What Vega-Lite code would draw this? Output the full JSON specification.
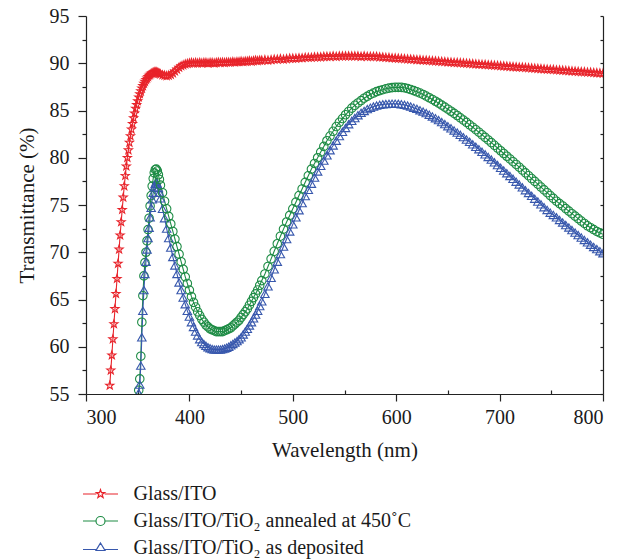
{
  "$schema": "https://vega.github.io/schema/vega-lite/v6.json",
  "width": 517,
  "height": 378,
  "autosize": "none",
  "padding": {"left": 86, "top": 16, "right": 27, "bottom": 166},
  "background": "white",
  "config": {
    "view": {"stroke": null},
    "font": "Liberation Serif",
    "axis": {
      "grid": false,
      "domainColor": "#222222",
      "tickColor": "#222222",
      "domainWidth": 1.2,
      "tickWidth": 1.2,
      "labelFont": "Liberation Serif",
      "titleFont": "Liberation Serif",
      "labelFontSize": 20,
      "titleFontSize": 21,
      "labelColor": "#1a1a1a",
      "titleColor": "#1a1a1a",
      "titleFontWeight": "normal"
    }
  },
  "data": {
    "values": [
      {"w":323,"r":55.9},{"w":324,"r":57.5},{"w":325,"r":59.1},{"w":326,"r":60.8},{"w":327,"r":62.4},
      {"w":328,"r":64.0},{"w":329,"r":65.6},{"w":330,"r":67.2},{"w":331,"r":68.8},{"w":332,"r":70.3},
      {"w":333,"r":71.8},{"w":334,"r":73.2},{"w":335,"r":74.5},{"w":336,"r":75.8},{"w":337,"r":77.0},
      {"w":338,"r":78.1},{"w":339,"r":79.1},{"w":340,"r":80.0},{"w":341,"r":80.8},{"w":342,"r":81.6},
      {"w":343,"r":82.3},{"w":344,"r":83.0},{"w":345,"r":83.6},{"w":346,"r":84.2},{"w":347,"r":84.7},
      {"w":348,"r":85.2},{"w":349,"r":85.6},{"w":350,"r":86.0},
      {"w":351,"r":86.4,"g":55.4,"b":55.1},{"w":352,"r":86.75,"g":56.6,"b":56.0},{"w":353,"r":87.05,"g":59.0,"b":58.0},
      {"w":354,"r":87.35,"g":62.6,"b":61.0},{"w":355,"r":87.6,"g":65.4,"b":63.8},{"w":356,"r":87.85,"g":67.5,"b":66.0},
      {"w":357,"r":88.05,"g":68.9,"b":67.7},{"w":358,"r":88.25,"g":70.0,"b":69.0},{"w":359,"r":88.4,"g":71.2,"b":70.3},
      {"w":360,"r":88.55,"g":72.4,"b":71.5},{"w":361,"r":88.7,"g":73.6,"b":72.6},{"w":362,"r":88.8,"g":74.9,"b":73.7},
      {"w":363,"r":88.9,"g":76.0,"b":74.7},{"w":364,"r":88.95,"g":77.0,"b":75.6},{"w":365,"r":89.0,"g":77.8,"b":76.3},
      {"w":366,"r":89.05,"g":78.4,"b":76.9},{"w":367,"r":89.05,"g":78.75,"b":77.25},{"w":368,"r":89.05,"g":78.8,"b":77.4},
      {"w":369,"r":89.0,"g":78.6,"b":77.2},{"w":370,"r":88.95,"g":78.2,"b":76.8},{"w":371,"r":88.9,"g":77.7,"b":76.3},
      {"w":372,"r":88.85,"g":77.1,"b":75.7},
      {"w":374,"r":88.75,"g":76.3,"b":74.6},{"w":376,"r":88.7,"g":75.4,"b":73.6},{"w":378,"r":88.65,"g":74.6,"b":72.5},
      {"w":380,"r":88.7,"g":73.8,"b":71.5},{"w":382,"r":88.8,"g":73.0,"b":70.5},{"w":384,"r":88.95,"g":72.2,"b":69.5},
      {"w":386,"r":89.15,"g":71.4,"b":68.6},{"w":388,"r":89.35,"g":70.6,"b":67.7},{"w":390,"r":89.55,"g":69.8,"b":66.8},
      {"w":392,"r":89.7,"g":69.0,"b":66.0},{"w":394,"r":89.8,"g":68.2,"b":65.2},{"w":396,"r":89.9,"g":67.4,"b":64.5},
      {"w":398,"r":89.95,"g":66.7,"b":63.8},{"w":400,"r":90.0,"g":66.0,"b":63.2},{"w":402,"r":90.05,"g":65.3,"b":62.6},
      {"w":404,"r":90.0,"g":64.7,"b":62.1},{"w":406,"r":90.05,"g":64.2,"b":61.6},{"w":408,"r":90.0,"g":63.7,"b":61.2},
      {"w":410,"r":90.05,"g":63.3,"b":60.8},{"w":412,"r":90.0,"g":62.9,"b":60.5},{"w":414,"r":90.05,"g":62.6,"b":60.3},
      {"w":416,"r":90.05,"g":62.3,"b":60.1},{"w":418,"r":90.0,"g":62.1,"b":59.95},{"w":420,"r":90.05,"g":61.9,"b":59.85},
      {"w":422,"r":90.05,"g":61.8,"b":59.75},{"w":424,"r":90.0,"g":61.7,"b":59.7},{"w":426,"r":90.05,"g":61.6,"b":59.7},
      {"w":428,"r":90.1,"g":61.6,"b":59.7},{"w":430,"r":90.05,"g":61.6,"b":59.7},{"w":432,"r":90.1,"g":61.6,"b":59.75},
      {"w":434,"r":90.05,"g":61.7,"b":59.8},{"w":436,"r":90.1,"g":61.8,"b":59.9},{"w":438,"r":90.1,"g":61.9,"b":60.0},
      {"w":440,"r":90.1,"g":62.0,"b":60.15},{"w":442,"r":90.15,"g":62.2,"b":60.3},{"w":444,"r":90.1,"g":62.4,"b":60.45},
      {"w":446,"r":90.15,"g":62.6,"b":60.6},{"w":448,"r":90.15,"g":62.8,"b":60.8},{"w":450,"r":90.2,"g":63.1,"b":61.0},
      {"w":452,"r":90.15,"g":63.4,"b":61.3},{"w":454,"r":90.2,"g":63.7,"b":61.6},{"w":456,"r":90.2,"g":64.0,"b":61.9},
      {"w":458,"r":90.25,"g":64.4,"b":62.25},{"w":460,"r":90.2,"g":64.8,"b":62.6},{"w":462,"r":90.25,"g":65.2,"b":63.0},
      {"w":464,"r":90.3,"g":65.6,"b":63.4},{"w":466,"r":90.25,"g":66.0,"b":63.8},{"w":468,"r":90.3,"g":66.5,"b":64.3},
      {"w":470,"r":90.3,"g":67.0,"b":64.8},
      {"w":473,"r":90.35,"g":67.7,"b":65.6},{"w":476,"r":90.3,"g":68.5,"b":66.4},{"w":479,"r":90.35,"g":69.3,"b":67.3},
      {"w":482,"r":90.4,"g":70.1,"b":68.2},{"w":485,"r":90.4,"g":70.9,"b":69.0},{"w":488,"r":90.45,"g":71.7,"b":69.8},
      {"w":491,"r":90.4,"g":72.45,"b":70.6},{"w":494,"r":90.45,"g":73.2,"b":71.4},{"w":497,"r":90.5,"g":73.9,"b":72.2},
      {"w":500,"r":90.5,"g":74.6,"b":72.95},{"w":503,"r":90.5,"g":75.3,"b":73.7},{"w":506,"r":90.55,"g":76.0,"b":74.45},
      {"w":509,"r":90.55,"g":76.7,"b":75.2},{"w":512,"r":90.6,"g":77.4,"b":75.95},{"w":515,"r":90.6,"g":78.1,"b":76.6},
      {"w":518,"r":90.6,"g":78.8,"b":77.25},{"w":521,"r":90.65,"g":79.4,"b":77.9},{"w":524,"r":90.65,"g":80.0,"b":78.55},
      {"w":527,"r":90.65,"g":80.6,"b":79.15},{"w":530,"r":90.7,"g":81.2,"b":79.7},{"w":533,"r":90.7,"g":81.8,"b":80.25},
      {"w":536,"r":90.7,"g":82.3,"b":80.8},{"w":539,"r":90.75,"g":82.8,"b":81.3},{"w":542,"r":90.7,"g":83.3,"b":81.8},
      {"w":545,"r":90.75,"g":83.75,"b":82.3},{"w":548,"r":90.75,"g":84.15,"b":82.75},{"w":551,"r":90.75,"g":84.55,"b":83.15},
      {"w":554,"r":90.75,"g":84.9,"b":83.55},{"w":557,"r":90.75,"g":85.25,"b":83.9},{"w":560,"r":90.75,"g":85.55,"b":84.2},
      {"w":563,"r":90.75,"g":85.8,"b":84.5},{"w":566,"r":90.7,"g":86.05,"b":84.75},{"w":569,"r":90.75,"g":86.3,"b":84.95},
      {"w":572,"r":90.7,"g":86.5,"b":85.15},{"w":575,"r":90.7,"g":86.7,"b":85.3},{"w":578,"r":90.7,"g":86.85,"b":85.42},
      {"w":581,"r":90.7,"g":87.0,"b":85.52},{"w":584,"r":90.65,"g":87.1,"b":85.6},{"w":587,"r":90.63,"g":87.2,"b":85.65},
      {"w":590,"r":90.6,"g":87.3,"b":85.68},{"w":593,"r":90.58,"g":87.37,"b":85.7},{"w":596,"r":90.55,"g":87.42,"b":85.72},
      {"w":599,"r":90.53,"g":87.45,"b":85.72},{"w":602,"r":90.5,"g":87.45,"b":85.7},{"w":605,"r":90.48,"g":87.45,"b":85.66},
      {"w":608,"r":90.46,"g":87.4,"b":85.6},{"w":611,"r":90.43,"g":87.32,"b":85.52},{"w":614,"r":90.41,"g":87.22,"b":85.42},
      {"w":617,"r":90.39,"g":87.1,"b":85.3},{"w":620,"r":90.36,"g":86.98,"b":85.17},{"w":623,"r":90.34,"g":86.85,"b":85.03},
      {"w":626,"r":90.31,"g":86.7,"b":84.88},{"w":629,"r":90.29,"g":86.53,"b":84.72},{"w":632,"r":90.27,"g":86.35,"b":84.55},
      {"w":635,"r":90.24,"g":86.17,"b":84.37},{"w":638,"r":90.22,"g":85.98,"b":84.18},{"w":641,"r":90.19,"g":85.78,"b":83.98},
      {"w":644,"r":90.17,"g":85.57,"b":83.77},{"w":647,"r":90.15,"g":85.36,"b":83.56},{"w":650,"r":90.12,"g":85.14,"b":83.34},
      {"w":653,"r":90.1,"g":84.92,"b":83.12},{"w":656,"r":90.07,"g":84.7,"b":82.89},{"w":659,"r":90.05,"g":84.47,"b":82.66},
      {"w":662,"r":90.03,"g":84.23,"b":82.42},{"w":665,"r":90.0,"g":83.99,"b":82.18},{"w":668,"r":89.98,"g":83.74,"b":81.93},
      {"w":671,"r":89.95,"g":83.49,"b":81.68},{"w":674,"r":89.93,"g":83.23,"b":81.42},{"w":677,"r":89.91,"g":82.97,"b":81.16},
      {"w":680,"r":89.88,"g":82.7,"b":80.9},{"w":683,"r":89.86,"g":82.43,"b":80.63},{"w":686,"r":89.84,"g":82.16,"b":80.36},
      {"w":689,"r":89.81,"g":81.88,"b":80.08},{"w":692,"r":89.79,"g":81.6,"b":79.8},{"w":695,"r":89.76,"g":81.32,"b":79.52},
      {"w":698,"r":89.74,"g":81.03,"b":79.23},{"w":701,"r":89.71,"g":80.74,"b":78.94},{"w":704,"r":89.69,"g":80.45,"b":78.65},
      {"w":707,"r":89.67,"g":80.16,"b":78.36},{"w":710,"r":89.64,"g":79.87,"b":78.07},{"w":713,"r":89.62,"g":79.58,"b":77.77},
      {"w":716,"r":89.59,"g":79.29,"b":77.47},{"w":719,"r":89.57,"g":79.0,"b":77.17},{"w":722,"r":89.55,"g":78.7,"b":76.87},
      {"w":725,"r":89.52,"g":78.4,"b":76.57},{"w":728,"r":89.5,"g":78.1,"b":76.27},{"w":731,"r":89.47,"g":77.8,"b":75.97},
      {"w":734,"r":89.45,"g":77.5,"b":75.67},{"w":737,"r":89.43,"g":77.2,"b":75.37},{"w":740,"r":89.4,"g":76.9,"b":75.07},
      {"w":743,"r":89.38,"g":76.6,"b":74.77},{"w":746,"r":89.35,"g":76.3,"b":74.48},{"w":749,"r":89.33,"g":76.0,"b":74.19},
      {"w":752,"r":89.31,"g":75.7,"b":73.95},{"w":755,"r":89.28,"g":75.4,"b":73.7},{"w":758,"r":89.26,"g":75.15,"b":73.42},
      {"w":761,"r":89.23,"g":74.9,"b":73.15},{"w":764,"r":89.21,"g":74.62,"b":72.88},{"w":767,"r":89.19,"g":74.35,"b":72.62},
      {"w":770,"r":89.16,"g":74.08,"b":72.35},{"w":773,"r":89.14,"g":73.82,"b":72.08},{"w":776,"r":89.11,"g":73.56,"b":71.82},
      {"w":779,"r":89.09,"g":73.3,"b":71.56},{"w":782,"r":89.07,"g":73.05,"b":71.3},{"w":785,"r":89.04,"g":72.8,"b":71.05},
      {"w":788,"r":89.02,"g":72.6,"b":70.8},{"w":791,"r":88.99,"g":72.4,"b":70.56},{"w":794,"r":88.97,"g":72.2,"b":70.33},
      {"w":797,"r":88.95,"g":72.05,"b":70.11},{"w":800,"r":88.92,"g":71.9,"b":69.9}
    ]
  },
  "transform": [
    {"fold": ["r", "g", "b"], "as": ["s", "v"]},
    {"filter": "isValid(datum.v)"}
  ],
  "layer": [
    {
      "mark": {"type": "line", "strokeWidth": 1.1, "clip": true},
      "encoding": {
        "x": {"field": "w", "type": "quantitative", "scale": {"domain": [300, 800], "nice": false, "zero": false},
              "axis": {"orient": "bottom", "values": [300, 400, 500, 600, 700, 800], "tickSize": 7, "labelPadding": 6, "title": "Wavelength (nm)", "titlePadding": 12}},
        "y": {"field": "v", "type": "quantitative", "scale": {"domain": [55, 95], "nice": false, "zero": false},
              "axis": {"orient": "left", "values": [55, 60, 65, 70, 75, 80, 85, 90, 95], "tickSize": 8, "labelPadding": 9, "title": "Transmittance (%)", "titlePadding": 12}},
        "color": {"field": "s", "type": "nominal", "scale": {"domain": ["r", "g", "b"], "range": ["#e8232a", "#1e8c45", "#3858ad"]}, "legend": null}
      }
    },
    {
      "mark": {"type": "point", "filled": false, "strokeWidth": 1.1, "size": 72, "opacity": 1, "clip": true},
      "encoding": {
        "x": {"field": "w", "type": "quantitative", "axis": null},
        "y": {"field": "v", "type": "quantitative", "axis": null},
        "color": {"field": "s", "type": "nominal", "scale": {"domain": ["r", "g", "b"], "range": ["#e8232a", "#1e8c45", "#3858ad"]}, "legend": null},
        "shape": {"field": "s", "type": "nominal", "scale": {"domain": ["r", "g", "b"], "range": ["M0,-1L0.235,-0.324L0.951,-0.309L0.38,0.124L0.588,0.809L0,0.4L-0.588,0.809L-0.38,0.124L-0.951,-0.309L-0.235,-0.324Z", "circle", "triangle-up"]}, "legend": null}
      }
    },
    {
      "transform": [{"filter": "false"}],
      "mark": {"type": "point", "filled": false, "opacity": 1},
      "encoding": {
        "color": {"field": "s", "type": "nominal", "scale": {"domain": ["r", "g", "b"], "range": ["#e8232a", "#1e8c45", "#3858ad"]},
                  "legend": {"title": null, "orient": "none", "legendX": 3.5, "legendY": 467, "padding": 0, "symbolSize": 400, "symbolStrokeWidth": 1.2, "symbolFillColor": "transparent", "labelFont": "Liberation Serif", "labelFontSize": 20, "labelColor": "#1a1a1a", "labelOffset": 22, "rowPadding": 6, "labelLimit": 500,
                             "labelExpr": "datum.value == 'r' ? 'Glass/ITO' : datum.value == 'g' ? 'Glass/ITO/TiO₂ annealed at 450˚C' : 'Glass/ITO/TiO₂ as deposited'"}},
        "shape": {"field": "s", "type": "nominal", "scale": {"domain": ["r", "g", "b"], "range": ["M-1.75,0H-0.42M0.42,0H1.75M0,-0.44L0.103,-0.142L0.418,-0.136L0.167,0.054L0.259,0.356L0,0.176L-0.259,0.356L-0.167,0.054L-0.418,-0.136L-0.103,-0.142Z", "M-1.75,0H-0.45A0.45,0.45 0 1,1 0.45,0A0.45,0.45 0 1,1 -0.45,0M0.45,0H1.75", "M-1.75,0.15H-0.39M0.39,0.15H1.75M0,-0.5L0.45,0.25L-0.45,0.25Z"]},
                  "legend": {"title": null, "orient": "none", "legendX": 3.5, "legendY": 467, "padding": 0, "symbolSize": 400, "symbolStrokeWidth": 1.2, "symbolFillColor": "transparent", "labelFont": "Liberation Serif", "labelFontSize": 20, "labelColor": "#1a1a1a", "labelOffset": 22, "rowPadding": 6, "labelLimit": 500,
                             "labelExpr": "datum.value == 'r' ? 'Glass/ITO' : datum.value == 'g' ? 'Glass/ITO/TiO₂ annealed at 450˚C' : 'Glass/ITO/TiO₂ as deposited'"}}
      }
    },
    {
      "transform": [{"filter": "false"}],
      "mark": {"type": "point"},
      "encoding": {
        "x": {"field": "w", "type": "quantitative",
              "axis": {"orient": "bottom", "values": [350, 450, 550, 650, 750], "tickSize": -4, "labels": false, "domain": false, "title": null}},
        "y": {"field": "v", "type": "quantitative",
              "axis": {"orient": "left", "values": [57.5, 62.5, 67.5, 72.5, 77.5, 82.5, 87.5, 92.5], "tickSize": 4, "labels": false, "domain": false, "title": null}}
      }
    },
    {
      "transform": [{"filter": "false"}],
      "mark": {"type": "point"},
      "encoding": {
        "y": {"field": "v", "type": "quantitative",
              "axis": {"orient": "right", "values": [55, 57.5, 60, 62.5, 65, 67.5, 70, 72.5, 75, 77.5, 80, 82.5, 85, 87.5, 90, 92.5, 95], "tickSize": -3, "labels": false, "title": null}}
      }
    }
  ],
  "resolve": {
    "scale": {"color": "independent", "shape": "independent"},
    "axis": {"x": "independent", "y": "independent"}
  }
}
